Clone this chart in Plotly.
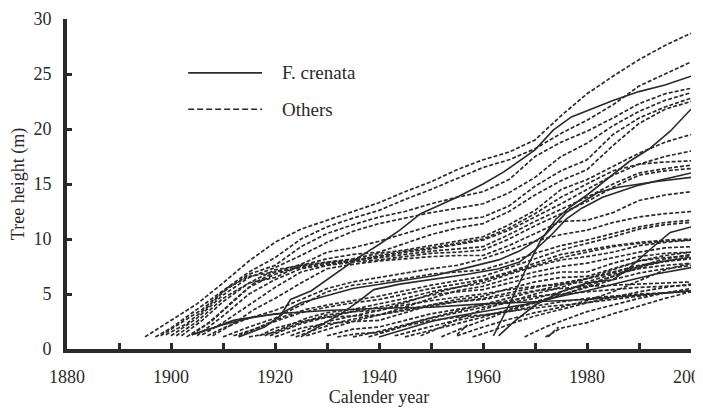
import plotly.graph_objects as go

# F. crenata trees: (calendar year, tree height m)
crenata_a = [(1913, 1.1), (1918, 2.0), (1921, 3.0), (1923, 4.5), (1927, 5.3), (1931, 6.6), (1936, 8.3),
             (1940, 9.5), (1944, 10.8), (1948, 12.3), (1955, 13.8), (1960, 15.0), (1964, 16.1), (1970, 18.1),
             (1973.5, 19.9), (1977, 21.1), (1985, 22.6), (1990, 23.4), (1995, 24.0), (2000, 24.8)]
crenata_b = [(1962, 1.2), (1965, 4.0), (1968, 7.0), (1971, 9.8), (1974, 11.8), (1977, 13.0), (1980, 14.0),
             (1984, 15.5), (1988, 17.0), (1992, 18.2), (1996, 19.8), (2000, 21.8)]
crenata_c = [(1904, 1.3), (1908, 1.9), (1912, 2.6), (1917, 3.0), (1921, 3.2), (1925, 4.2), (1935, 5.5),
             (1944, 6.2), (1951, 6.7), (1957, 7.4), (1963, 8.1), (1967, 8.9), (1972, 10.4), (1976, 12.4),
             (1982, 14.2), (1986, 14.7), (1993, 15.2), (2000, 15.6)]
crenata_d = [(1925, 1.1), (1929, 2.2), (1933, 3.3), (1936, 4.3), (1939, 5.4), (1944, 5.9), (1950, 6.3),
             (1957, 6.8), (1963, 7.3), (1967, 7.9), (1970, 9.0), (1973, 10.3), (1976, 11.8), (1979, 12.8),
             (1983, 13.8), (1990, 14.9), (2000, 16.0)]
crenata_e = [(1963, 1.2), (1966, 2.5), (1970, 4.0), (1975, 5.2), (1980, 6.0), (1985, 6.3), (1988, 7.3),
             (1992, 9.0), (1996, 10.6), (2000, 11.1)]
crenata_f = [(1940, 1.1), (1945, 1.8), (1950, 2.5), (1955, 3.0), (1960, 3.4), (1965, 3.8), (1970, 4.2),
             (1975, 4.8), (1980, 5.3), (1986, 6.0), (1993, 6.8), (2000, 7.4)]
crenata_g = [(1904, 1.3), (1910, 2.2), (1915, 2.8), (1920, 3.2), (1930, 3.5), (1940, 3.7), (1950, 3.8),
             (1960, 4.1), (1970, 4.3), (1980, 4.5), (1990, 4.9), (2000, 5.3)]

# other species
other_01 = [(1895, 1.1), (1900, 2.6), (1905, 4.1), (1910, 6.0), (1915, 8.0), (1920, 9.7), (1925, 10.9), (1930, 11.7),
            (1935, 12.5), (1940, 13.3), (1945, 14.3), (1950, 15.2), (1955, 16.3), (1960, 17.2), (1965, 17.9),
            (1970, 19.0), (1975, 21.2), (1980, 23.2), (1985, 24.8), (1990, 26.3), (1995, 27.6), (2000, 28.7)]
other_02 = [(1897, 1.1), (1900, 1.9), (1905, 3.6), (1910, 5.3), (1915, 7.0), (1920, 8.3), (1925, 10.0), (1930, 11.1),
            (1935, 11.9), (1940, 12.6), (1945, 13.6), (1950, 14.5), (1955, 15.5), (1960, 16.5), (1965, 17.2),
            (1970, 18.2), (1975, 19.6), (1980, 20.8), (1985, 22.2), (1990, 23.9), (1995, 25.0), (2000, 26.1)]
other_03 = [(1898, 1.2), (1902, 2.4), (1906, 3.6), (1910, 5.2), (1915, 6.8), (1920, 7.6), (1925, 9.3), (1930, 10.5),
            (1935, 11.3), (1940, 12.0), (1945, 12.5), (1950, 13.2), (1955, 13.8), (1960, 14.3), (1965, 15.4),
            (1970, 17.5), (1975, 18.8), (1980, 19.8), (1985, 21.0), (1990, 22.3), (1995, 23.2), (2000, 23.7)]
other_04 = [(1900, 1.2), (1905, 2.8), (1910, 4.9), (1915, 6.5), (1920, 7.4), (1925, 8.5), (1930, 9.7), (1935, 10.7),
            (1940, 11.4), (1945, 11.9), (1950, 12.4), (1955, 12.8), (1960, 13.2), (1965, 14.2), (1970, 15.6),
            (1975, 17.5), (1980, 18.7), (1985, 20.3), (1990, 21.6), (1995, 22.6), (2000, 23.3)]
other_05 = [(1899, 1.3), (1903, 2.3), (1907, 3.8), (1911, 5.6), (1915, 6.6), (1920, 7.0), (1925, 7.7), (1930, 8.8),
            (1935, 9.2), (1940, 9.8), (1945, 10.5), (1950, 11.2), (1955, 11.7), (1960, 12.0), (1965, 13.0),
            (1970, 14.8), (1975, 16.2), (1980, 17.2), (1985, 19.5), (1990, 21.0), (1995, 22.0), (2000, 22.8)]
other_06 = [(1901, 1.2), (1905, 2.5), (1910, 4.6), (1915, 6.0), (1920, 6.5), (1925, 7.6), (1930, 8.2), (1935, 8.6),
            (1940, 8.8), (1945, 9.6), (1950, 10.4), (1955, 11.0), (1960, 11.4), (1965, 12.5), (1970, 14.0),
            (1975, 15.3), (1980, 16.3), (1985, 18.5), (1990, 20.5), (1995, 21.8), (2000, 22.5)]
other_07 = [(1902, 1.2), (1906, 2.6), (1910, 4.3), (1915, 6.0), (1920, 7.2), (1925, 7.6), (1930, 7.9), (1935, 8.2),
            (1940, 8.7), (1945, 9.0), (1950, 9.4), (1955, 9.8), (1960, 10.2), (1965, 11.3), (1970, 12.6),
            (1975, 14.5), (1980, 15.4), (1985, 16.6), (1990, 17.8), (1995, 18.8), (2000, 19.5)]
other_08 = [(1903, 1.1), (1907, 2.3), (1911, 3.9), (1915, 5.6), (1920, 6.8), (1925, 7.5), (1930, 7.9), (1935, 8.1),
            (1940, 8.4), (1945, 8.8), (1950, 9.1), (1955, 9.5), (1960, 9.9), (1965, 10.8), (1970, 12.0),
            (1975, 13.2), (1980, 14.5), (1985, 15.8), (1990, 16.8), (1995, 17.5), (2000, 18.0)]
other_09 = [(1905, 1.2), (1910, 3.0), (1915, 5.0), (1920, 6.3), (1925, 7.3), (1930, 7.7), (1935, 8.0), (1940, 8.3),
            (1945, 8.6), (1950, 8.9), (1955, 9.1), (1960, 9.3), (1965, 10.4), (1970, 11.6), (1975, 12.7),
            (1980, 13.8), (1985, 15.0), (1990, 16.0), (1995, 16.4), (2000, 16.7)]
other_10 = [(1906, 1.3), (1910, 2.4), (1915, 4.0), (1920, 5.6), (1925, 7.0), (1930, 7.6), (1935, 7.9), (1940, 8.1),
            (1945, 8.4), (1950, 8.7), (1955, 8.8), (1960, 9.0), (1965, 10.0), (1970, 11.2), (1975, 12.3),
            (1980, 13.4), (1985, 14.7), (1990, 15.8), (1995, 16.2), (2000, 16.4)]
other_11 = [(1908, 1.2), (1912, 2.3), (1916, 3.6), (1920, 4.6), (1925, 6.0), (1930, 7.3), (1935, 7.7), (1940, 8.0),
            (1945, 8.2), (1950, 8.4), (1955, 8.5), (1960, 8.5), (1965, 9.4), (1970, 10.5), (1975, 11.6),
            (1980, 11.7), (1985, 12.4), (1990, 13.5), (1995, 14.0), (2000, 14.3)]
other_12 = [(1907, 1.2), (1910, 1.9), (1915, 2.8), (1920, 3.5), (1925, 4.5), (1930, 5.5), (1935, 6.1), (1940, 6.5),
            (1945, 6.9), (1950, 7.3), (1955, 7.6), (1960, 8.2), (1965, 9.0), (1970, 9.8), (1975, 10.4),
            (1980, 10.8), (1985, 11.5), (1990, 12.0), (1995, 12.3), (2000, 12.5)]
other_13 = [(1910, 1.1), (1915, 2.0), (1920, 2.8), (1925, 4.0), (1930, 5.2), (1935, 5.8), (1940, 6.1), (1945, 6.4),
            (1950, 6.8), (1955, 7.0), (1960, 7.2), (1965, 7.9), (1970, 8.7), (1975, 9.4), (1980, 9.9),
            (1985, 10.5), (1990, 11.1), (1995, 11.5), (2000, 11.7)]
other_14 = [(1912, 1.2), (1916, 1.8), (1920, 2.5), (1925, 3.3), (1930, 3.8), (1935, 4.2), (1940, 4.5), (1945, 5.0),
            (1950, 5.5), (1955, 5.9), (1960, 6.3), (1965, 7.0), (1970, 7.8), (1975, 8.6), (1980, 9.0),
            (1985, 9.4), (1990, 9.7), (1995, 9.9), (2000, 10.0)]
other_15 = [(1915, 1.1), (1920, 1.5), (1925, 2.4), (1930, 3.1), (1935, 3.4), (1940, 3.5), (1945, 4.2), (1950, 5.0),
            (1955, 5.6), (1960, 6.0), (1965, 6.8), (1970, 7.5), (1975, 8.1), (1980, 8.4), (1985, 8.8),
            (1990, 9.4), (1995, 9.7), (2000, 9.9)]
other_16 = [(1917, 1.2), (1920, 1.9), (1925, 2.5), (1930, 2.9), (1935, 3.0), (1940, 3.1), (1945, 3.8), (1950, 4.6),
            (1955, 5.3), (1960, 5.7), (1965, 6.4), (1970, 7.0), (1975, 7.5), (1980, 7.8), (1985, 8.3),
            (1990, 8.8), (1995, 9.2), (2000, 9.3)]
other_17 = [(1919, 1.2), (1925, 2.3), (1930, 2.9), (1935, 3.4), (1940, 3.8), (1945, 4.3), (1950, 4.9), (1955, 5.2),
            (1960, 5.4), (1965, 6.0), (1970, 6.6), (1975, 7.0), (1980, 7.0), (1985, 7.8), (1990, 8.4),
            (1995, 8.7), (2000, 8.8)]
other_18 = [(1920, 1.1), (1925, 1.9), (1930, 2.3), (1935, 2.5), (1940, 2.6), (1945, 3.3), (1950, 4.0), (1955, 4.5),
            (1960, 4.8), (1965, 5.5), (1970, 6.1), (1975, 6.5), (1980, 6.6), (1985, 7.3), (1990, 8.0),
            (1995, 8.3), (2000, 8.5)]
other_19 = [(1923, 1.2), (1927, 1.9), (1930, 2.5), (1935, 3.0), (1940, 3.5), (1945, 4.0), (1950, 4.4), (1955, 4.7),
            (1960, 5.0), (1965, 5.4), (1970, 5.7), (1975, 5.9), (1980, 6.1), (1985, 6.8), (1990, 7.3),
            (1995, 7.6), (2000, 7.8)]
other_20 = [(1926, 1.2), (1930, 1.8), (1935, 2.5), (1940, 3.1), (1945, 3.6), (1950, 4.0), (1955, 4.3), (1960, 4.5),
            (1965, 4.9), (1970, 5.3), (1975, 5.5), (1980, 5.7), (1985, 5.8), (1990, 5.9), (1995, 6.0), (2000, 6.1)]
other_21 = [(1930, 1.2), (1935, 1.8), (1940, 2.0), (1945, 2.6), (1950, 3.2), (1955, 3.6), (1960, 4.0), (1965, 4.4),
            (1970, 4.8), (1975, 5.0), (1980, 5.2), (1985, 5.4), (1990, 5.6), (1995, 5.7), (2000, 5.8)]
other_22 = [(1932, 1.1), (1936, 1.4), (1940, 1.5), (1945, 2.1), (1950, 2.6), (1955, 2.9), (1960, 3.1), (1965, 3.4),
            (1970, 3.9), (1975, 4.3), (1980, 4.6), (1985, 4.8), (1990, 5.0), (1995, 5.1), (2000, 5.2)]
other_23 = [(1943, 1.2), (1948, 1.8), (1953, 2.4), (1958, 2.9), (1963, 3.3), (1968, 3.6), (1973, 3.9), (1978, 4.1),
            (1985, 4.5), (1990, 4.8), (1995, 5.1), (2000, 5.3)]
other_24 = [(1938, 1.1), (1943, 1.8), (1948, 2.6), (1953, 3.2), (1958, 3.8), (1963, 4.4), (1968, 5.0), (1973, 5.6),
            (1978, 6.2), (1983, 6.7), (1988, 7.3), (1994, 7.9), (2000, 8.2)]
other_25 = [(1948, 1.2), (1952, 2.0), (1956, 2.9), (1960, 3.6), (1965, 4.3), (1970, 5.0), (1975, 5.6), (1980, 6.4),
            (1985, 7.2), (1990, 8.0), (1995, 8.5), (2000, 8.8)]
other_26 = [(1952, 1.1), (1956, 1.9), (1960, 2.6), (1965, 3.5), (1970, 4.2), (1975, 4.9), (1980, 5.7), (1985, 6.6),
            (1990, 7.5), (1995, 8.2), (2000, 8.6)]
other_27 = [(1955, 1.2), (1960, 2.0), (1965, 2.7), (1970, 3.3), (1975, 3.8), (1980, 4.4), (1985, 5.2), (1990, 6.2),
            (1995, 7.2), (2000, 7.8)]
other_28 = [(1968, 1.1), (1972, 2.0), (1976, 2.7), (1980, 3.4), (1985, 4.0), (1990, 4.6), (1995, 5.1), (2000, 5.5)]
other_29 = [(1972, 1.1), (1975, 1.9), (1980, 2.4), (1985, 3.2), (1990, 3.9), (1995, 4.6), (2000, 5.2)]
other_30 = [(1904, 1.3), (1908, 2.6), (1912, 4.4), (1916, 6.0), (1920, 7.0), (1925, 7.4), (1930, 7.8), (1935, 8.0),
            (1940, 8.5), (1945, 8.9), (1950, 9.2), (1955, 9.6), (1960, 10.0), (1965, 11.0), (1970, 12.3),
            (1975, 13.8), (1980, 15.0), (1985, 16.2), (1990, 16.8), (1995, 17.0), (2000, 17.1)]
other_31 = [(1913, 1.2), (1918, 2.2), (1922, 3.0), (1926, 3.6), (1930, 4.0), (1935, 4.4), (1940, 4.8), (1945, 5.3),
            (1950, 5.8), (1955, 6.2), (1960, 6.6), (1965, 7.4), (1970, 8.2), (1975, 9.0), (1980, 9.6),
            (1985, 10.2), (1990, 10.9), (1995, 11.3), (2000, 11.5)]
other_32 = [(1918, 1.2), (1922, 2.0), (1926, 2.8), (1930, 3.3), (1935, 3.6), (1940, 4.1), (1945, 4.6), (1950, 5.2),
            (1955, 5.6), (1960, 6.2), (1965, 6.9), (1970, 7.6), (1975, 8.3), (1980, 8.8), (1985, 9.3),
            (1990, 9.6), (1995, 9.8), (2000, 9.9)]
other_33 = [(1924, 1.1), (1928, 1.8), (1932, 2.4), (1936, 2.8), (1940, 3.1), (1945, 3.5), (1950, 3.9), (1955, 4.3),
            (1960, 4.6), (1965, 5.1), (1970, 5.6), (1975, 6.0), (1980, 6.4), (1985, 7.0), (1990, 7.6),
            (1995, 8.0), (2000, 8.3)]
other_34 = [(1935, 1.1), (1940, 1.6), (1945, 2.2), (1950, 2.8), (1955, 3.3), (1960, 3.8), (1965, 4.2), (1970, 4.6),
            (1975, 5.2), (1980, 5.9), (1985, 6.6), (1990, 7.4), (1995, 8.0), (2000, 8.4)]
other_35 = [(1945, 1.1), (1950, 1.7), (1955, 2.3), (1960, 2.9), (1965, 3.6), (1970, 4.3), (1975, 4.9), (1980, 5.6),
            (1985, 6.3), (1990, 6.9), (1995, 7.3), (2000, 7.6)]
other_36 = [(1958, 1.1), (1962, 1.7), (1966, 2.4), (1970, 3.0), (1975, 3.6), (1980, 4.2), (1985, 4.7), (1990, 5.2),
            (1995, 5.6), (2000, 5.9)]
other_37 = [(1972.5, 1.1), (1974.5, 2.0)]
other_38 = [(1955, 1.3), (1957, 2.2)]

crenata = [crenata_a, crenata_b, crenata_c, crenata_d, crenata_e, crenata_f, crenata_g]
others = [other_01, other_02, other_03, other_04, other_05, other_06, other_07, other_08, other_09, other_10,
          other_11, other_12, other_13, other_14, other_15, other_16, other_17, other_18, other_19, other_20,
          other_21, other_22, other_23, other_24, other_25, other_26, other_27, other_28, other_29, other_30,
          other_31, other_32, other_33, other_34, other_35, other_36, other_37, other_38]

year_ticks = list(range(1880, 2001, 10))
year_labels = [str(y) if y % 20 == 0 else '' for y in year_ticks]
height_ticks = [0, 5, 10, 15, 20, 25, 30]

INK = '#2a2a2a'
FONT = 'Liberation Serif'

fig = go.Figure()

for tree in others:
    fig.add_trace(go.Scatter(
        x=[p[0] for p in tree], y=[p[1] for p in tree],
        mode='lines', line=dict(color=INK, width=1.7, dash='4px,2px'),
        showlegend=False, hoverinfo='skip'
    ))

for tree in crenata:
    fig.add_trace(go.Scatter(
        x=[p[0] for p in tree], y=[p[1] for p in tree],
        mode='lines', line=dict(color=INK, width=1.6),
        showlegend=False, hoverinfo='skip'
    ))

# hand-drawn legend like the original figure
fig.add_shape(type='line', xref='x', yref='y', x0=1903.3, x1=1917.5, y0=25.1, y1=25.1,
              line=dict(color=INK, width=1.6))
fig.add_shape(type='line', xref='x', yref='y', x0=1903.3, x1=1917.5, y0=21.8, y1=21.8,
              line=dict(color=INK, width=1.6, dash='6px,3px'))
fig.add_annotation(x=1921.0, y=25.1, xref='x', yref='y', text='F. crenata', showarrow=False,
                   xanchor='left', font=dict(family=FONT, size=19, color=INK))
fig.add_annotation(x=1921.0, y=21.8, xref='x', yref='y', text='Others', showarrow=False,
                   xanchor='left', font=dict(family=FONT, size=19, color=INK))

fig.update_xaxes(
    range=[1880, 2000], tickmode='array', tickvals=year_ticks, ticktext=year_labels,
    ticks='inside', ticklen=6, tickwidth=3, tickcolor=INK,
    showline=True, linewidth=4, linecolor=INK, showgrid=False, zeroline=False,
    tickfont=dict(family=FONT, size=18, color=INK), ticklabelstandoff=8, ticklabeloverflow='allow',
    automargin=False,
    title=dict(text='Calender year', font=dict(family=FONT, size=18, color=INK), standoff=2)
)
fig.update_yaxes(
    range=[0, 30], tickmode='array', tickvals=height_ticks,
    ticks='inside', ticklen=5, tickwidth=3, tickcolor=INK,
    showline=True, linewidth=4, linecolor=INK, showgrid=False, zeroline=False,
    tickfont=dict(family=FONT, size=18, color=INK), ticklabelstandoff=8,
    automargin=False,
    title=dict(text='Tree height (m)', font=dict(family=FONT, size=18, color=INK), standoff=5)
)

# the page body keeps an 8px browser margin, so the figure is sized to fill the rest of the window
fig.update_layout(
    width=695, height=401,
    margin=dict(l=59, r=12, t=11, b=60),
    plot_bgcolor='white', paper_bgcolor='white',
    showlegend=False
)

fig.write_html("out.html")
